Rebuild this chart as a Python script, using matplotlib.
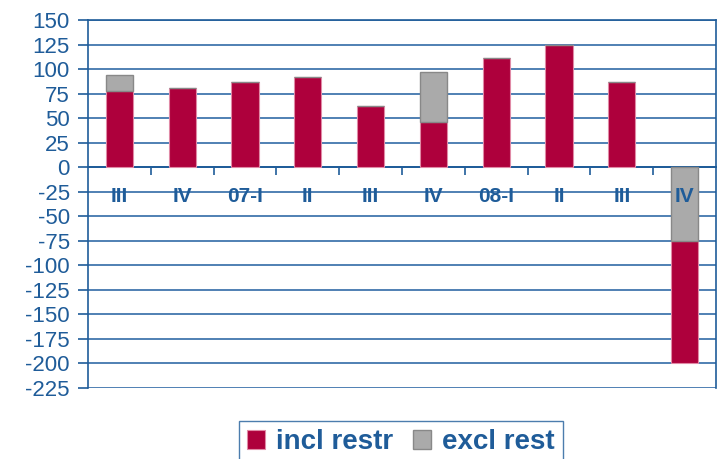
import numpy as np
import matplotlib.pyplot as plt
from matplotlib.ticker import MultipleLocator

plt.rcParams['font.family'] = ['Liberation Sans', 'DejaVu Sans']
plt.rcParams['axes.unicode_minus'] = False

quarters = ['III', 'IV', '07-I', 'II', 'III', 'IV', '08-I', 'II', 'III', 'IV']
incl_restr = np.array([78, 81, 87, 92, 62, 46, 111, 125, 87, -125])
excl_rest = np.array([16, 0, 0, 0, 0, 51, 0, 0, 0, -75])

blue = '#1f5c99'
grid_blue = '#4f80b3'
red = '#ae003c'
grey = '#aaaaaa'

fig = plt.figure(figsize=(7.22, 4.59), dpi=100)
ax = fig.add_axes([88 / 722, 1 - 388 / 459, 628 / 722, 368 / 459])

x = np.arange(len(quarters))
w = 0.43
# positive values: red first, grey on top; negative: grey next to zero, red below
red_bottom = np.where(incl_restr < 0, excl_rest, 0)
grey_bottom = np.where(incl_restr < 0, 0, incl_restr)
ax.bar(x, incl_restr, w, bottom=red_bottom, color=red, edgecolor='#e08aa6', linewidth=0.8, zorder=3,
       label='incl restr')
ax.bar(x, excl_rest, w, bottom=grey_bottom, color=grey, edgecolor='#888888', linewidth=1.0, zorder=3,
       label='excl rest')

ax.set_xlim(-0.5, len(quarters) - 0.5)
ax.set_ylim(-225, 150)
ax.yaxis.set_major_locator(MultipleLocator(25))
ax.grid(axis='y', color=grid_blue, linewidth=1.4, zorder=1)
ax.set_axisbelow(True)

for s in ['left', 'right', 'top']:
    ax.spines[s].set_color(blue)
    ax.spines[s].set_linewidth(1.2)
ax.spines['bottom'].set_position(('data', 0))
ax.spines['bottom'].set_color(blue)
ax.spines['bottom'].set_linewidth(1.4)
ax.spines['bottom'].set_zorder(2)

ax.tick_params(axis='y', colors=blue, labelsize=16, length=7, width=1.2, pad=6)

ax.set_xticks(x)
ax.set_xticklabels(quarters, fontsize=15, fontweight='bold', color=blue)
ax.set_xticks(np.arange(len(quarters) - 1) + 0.5, minor=True)
ax.tick_params(axis='x', which='major', length=0, pad=14)
ax.tick_params(axis='x', which='minor', length=6, width=1.2, color=blue, direction='out')
ax.xaxis.set_zorder(4)  # quarter labels sit on top of the bars

leg = fig.legend(loc='upper center', bbox_to_anchor=(401 / 722, 1 - 421 / 459), ncol=2,
                 frameon=True, fancybox=False, edgecolor=blue, handlelength=0.65, handleheight=0.65,
                 handletextpad=0.4, columnspacing=0.7, borderpad=0.3, borderaxespad=0,
                 prop={'size': 20, 'weight': 'bold'})
for t in leg.get_texts():
    t.set_color(blue)
leg.get_frame().set_linewidth(1.0)

fig.savefig('out.png', dpi=100)
